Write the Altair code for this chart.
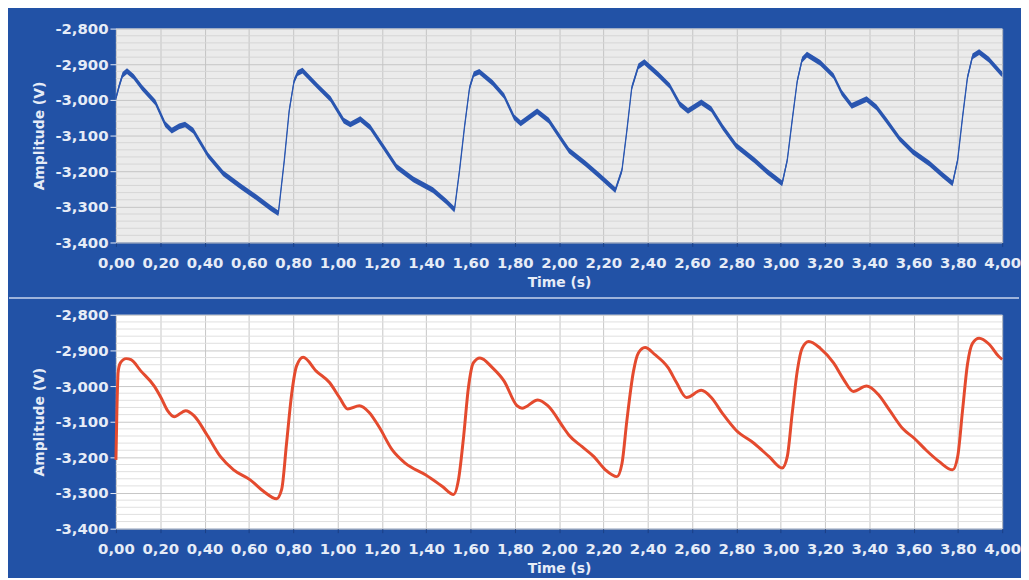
import altair as alt
import pandas as pd

# ---- data ----
t_top = [0.000, 0.015, 0.030, 0.050, 0.080, 0.118, 0.178, 0.222, 0.252, 0.285,
         0.312, 0.349, 0.416, 0.484, 0.566, 0.640, 0.700, 0.733, 0.760, 0.782,
         0.804, 0.820, 0.842, 0.909, 0.969, 1.028, 1.058, 1.103, 1.148, 1.207,
         1.267, 1.342, 1.431, 1.491, 1.528, 1.551, 1.573, 1.596, 1.615, 1.640,
         1.700, 1.752, 1.797, 1.827, 1.901, 1.954, 2.015, 2.045, 2.119, 2.179,
         2.254, 2.284, 2.306, 2.328, 2.358, 2.385, 2.448, 2.500, 2.545, 2.582,
         2.642, 2.687, 2.739, 2.799, 2.881, 2.940, 3.007, 3.030, 3.052, 3.075,
         3.097, 3.119, 3.179, 3.239, 3.276, 3.321, 3.388, 3.433, 3.478, 3.537,
         3.597, 3.672, 3.731, 3.776, 3.799, 3.821, 3.843, 3.866, 3.896, 3.940,
         3.993, 4.000]
v_top = [-2995, -2960, -2930, -2919, -2935, -2966, -3007, -3068, -3086, -3074,
         -3069, -3086, -3156, -3206, -3244, -3276, -3304, -3318, -3169, -3030,
         -2947, -2925, -2918, -2961, -2998, -3058, -3069, -3054, -3077, -3132,
         -3188, -3223, -3253, -3285, -3308, -3197, -3077, -2966, -2928, -2921,
         -2952, -2989, -3049, -3066, -3032, -3058, -3115, -3142, -3179, -3211,
         -3253, -3197, -3086, -2966, -2906, -2894, -2929, -2961, -3012, -3031,
         -3007, -3026, -3077, -3128, -3169, -3202, -3234, -3169, -3058, -2947,
         -2887, -2873, -2896, -2933, -2980, -3017, -2998, -3021, -3058, -3109,
         -3146, -3179, -3211, -3234, -3169, -3049, -2938, -2878, -2866, -2887,
         -2924, -2928]

t_bot = [0.000, 0.004, 0.010, 0.020, 0.046, 0.068, 0.113, 0.173, 0.203, 0.233,
         0.263, 0.315, 0.352, 0.412, 0.472, 0.531, 0.606, 0.666, 0.725, 0.748,
         0.770, 0.793, 0.815, 0.845, 0.904, 0.964, 1.009, 1.046, 1.099, 1.143,
         1.188, 1.248, 1.307, 1.397, 1.472, 1.524, 1.546, 1.569, 1.591, 1.613,
         1.643, 1.700, 1.752, 1.810, 1.833, 1.904, 1.949, 2.024, 2.045, 2.104,
         2.157, 2.209, 2.261, 2.284, 2.306, 2.336, 2.358, 2.388, 2.433, 2.493,
         2.530, 2.575, 2.642, 2.687, 2.739, 2.799, 2.881, 2.948, 3.007, 3.030,
         3.052, 3.075, 3.097, 3.127, 3.179, 3.239, 3.284, 3.328, 3.388, 3.440,
         3.493, 3.552, 3.604, 3.657, 3.716, 3.776, 3.799, 3.821, 3.843, 3.866,
         3.896, 3.940, 3.985, 4.000]
v_bot = [-3207, -3080, -2960, -2935, -2923, -2926, -2958, -3000, -3032, -3069,
         -3086, -3069, -3083, -3138, -3198, -3235, -3263, -3295, -3316, -3290,
         -3161, -3023, -2944, -2919, -2958, -2990, -3032, -3064, -3055, -3074,
         -3115, -3180, -3217, -3249, -3281, -3304, -3263, -3143, -3004, -2935,
         -2921, -2949, -2986, -3055, -3062, -3039, -3055, -3120, -3138, -3170,
         -3198, -3235, -3254, -3217, -3097, -2958, -2907, -2892, -2912, -2949,
         -2990, -3032, -3012, -3032, -3078, -3124, -3161, -3198, -3230, -3198,
         -3078, -2958, -2894, -2875, -2894, -2935, -2981, -3015, -3000, -3023,
         -3069, -3120, -3147, -3180, -3212, -3235, -3198, -3069, -2940, -2880,
         -2866, -2882, -2917, -2925]

x_ticks = [0.0, 0.2, 0.4, 0.6, 0.8, 1.0, 1.2, 1.4, 1.6, 1.8, 2.0,
           2.2, 2.4, 2.6, 2.8, 3.0, 3.2, 3.4, 3.6, 3.8, 4.0]
y_ticks = [-3400, -3300, -3200, -3100, -3000, -2900, -2800]
y_minor = [v for v in range(-3380, -2800, 20) if v % 100 != 0]

x_title = "Time (s)"
y_title = "Amplitude (V)"

# ---- styling ----
FRAME = "#2252a6"
TXT = "#e6ecf7"
FONT = "DejaVu Sans"
NOISE = 8  # half thickness of the noisy trace, in data units
W, H = 895, 216
FRAME_L, FRAME_R = -108, 912  # frame extent relative to plot area (px)


def make_panel(t, v, kind):
    df = pd.DataFrame({"t": t, "v": v})
    xs = alt.Scale(domain=[0, 4], nice=False, zero=False)
    ys = alt.Scale(domain=[-3400, -2800], nice=False, zero=False)
    if kind == "top":
        bg, major, minor_c = "#ebebeb", "#c4c4c4", "#d6d6d6"
    else:
        bg, major, minor_c = "#ffffff", "#c6c6c6", "#e0e0e0"

    xax = alt.Axis(
        values=x_ticks,
        labelExpr="replace(format(datum.value, '.2f'), '.', ',')",
        title=x_title, grid=True, gridColor=major, domain=False,
        tickColor="#1a3f85", tickSize=4, labelPadding=9, labelFlush=False,
        labelColor=TXT, labelFont=FONT, labelFontSize=15, labelFontWeight="bold",
        titleColor=TXT, titleFont=FONT, titleFontSize=14, titleFontWeight="bold",
        titlePadding=5, labelOverlap=False,
    )
    yax = alt.Axis(
        values=y_ticks,
        labelExpr="replace(format(datum.value, ','), '\u2212', '-')",
        title=y_title, grid=True, gridColor=major, domain=False,
        tickColor=TXT, tickSize=6, labelPadding=2, labelFlush=False,
        labelColor=TXT, labelFont=FONT, labelFontSize=15, labelFontWeight="bold",
        titleColor=TXT, titleFont=FONT, titleFontSize=14, titleFontWeight="bold",
        titlePadding=8, labelOverlap=False,
    )

    X = lambda f: alt.X(f, scale=xs, axis=xax)
    Y = lambda f: alt.Y(f, scale=ys, axis=yax)

    minor = alt.Chart(pd.DataFrame({"m": y_minor})).mark_rule(
        color=minor_c, strokeWidth=1
    ).encode(y=Y("m:Q"))

    # frame separator (visible above the lower panel, invisible on the upper one)
    sep_opacity = 0 if kind == "top" else 1
    sep_y = 0 if kind == "top" else -17
    sep = alt.Chart(pd.DataFrame({"s": [0]})).mark_rule(
        color="#c9d5ec", strokeWidth=1.5, strokeOpacity=sep_opacity
    ).encode(x=alt.value(FRAME_L), x2=alt.value(FRAME_R), y=alt.value(sep_y))

    base = alt.Chart(df)
    if kind == "top":
        col = "#2a56b0"
        band = base.transform_calculate(
            lo=f"datum.v - {NOISE}", hi=f"datum.v + {NOISE}"
        ).mark_area(color=col, opacity=1, interpolate="linear").encode(
            x=X("t:Q"), y=Y("lo:Q"), y2="hi:Q",
        )
        line = base.mark_line(color=col, strokeWidth=1.3).encode(
            x=X("t:Q"), y=Y("v:Q"),
        )
        layers = [minor, sep, band, line]
    else:
        col = "#e44a2e"
        line = base.mark_line(color=col, strokeWidth=3, interpolate="monotone").encode(
            x=X("t:Q"), y=Y("v:Q"),
        )
        layers = [minor, sep, line]

    return alt.layer(*layers).properties(
        width=W, height=H, view=alt.ViewBackground(fill=bg, stroke=None)
    )


chart = alt.vconcat(
    make_panel(t_top, v_top, "top"),
    make_panel(t_bot, v_bot, "bot"),
    spacing=8,
).properties(
    background=FRAME,
    padding={"left": 0, "top": 11, "right": 0, "bottom": 0},
).configure_view(stroke=None)

chart.save("out.html", embed_options={"renderer": "svg", "actions": False})
